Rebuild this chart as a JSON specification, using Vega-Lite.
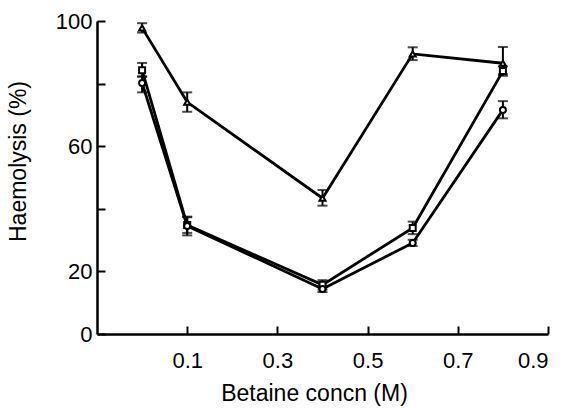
{
  "$schema": "https://vega.github.io/schema/vega-lite/v6.json",
  "width": 451,
  "height": 313,
  "autosize": "none",
  "padding": {"left": 97, "top": 21, "right": 21, "bottom": 74},
  "background": "white",
  "config": {"view": {"stroke": null}, "font": "Liberation Sans"},
  "data": {"values": [
    {"series": "tri", "conc": 0.0, "value": 97.8, "lo": 96.3, "hi": 99.3},
    {"series": "tri", "conc": 0.1, "value": 74.1, "lo": 71.0, "hi": 77.2},
    {"series": "tri", "conc": 0.4, "value": 43.4, "lo": 41.0, "hi": 46.0},
    {"series": "tri", "conc": 0.6, "value": 89.5, "lo": 87.5, "hi": 91.6},
    {"series": "tri", "conc": 0.8, "value": 86.5, "lo": 83.0, "hi": 91.7},
    {"series": "sq", "conc": 0.0, "value": 84.3, "lo": 82.3, "hi": 86.6},
    {"series": "sq", "conc": 0.1, "value": 34.8, "lo": 32.3, "hi": 37.3},
    {"series": "sq", "conc": 0.4, "value": 15.7, "lo": 14.2, "hi": 17.2},
    {"series": "sq", "conc": 0.6, "value": 33.9, "lo": 31.9, "hi": 35.9},
    {"series": "sq", "conc": 0.8, "value": 84.0, "lo": 82.5, "hi": 85.5},
    {"series": "circ", "conc": 0.0, "value": 80.2, "lo": 77.2, "hi": 82.2},
    {"series": "circ", "conc": 0.1, "value": 34.5, "lo": 31.5, "hi": 37.5},
    {"series": "circ", "conc": 0.4, "value": 14.4, "lo": 13.4, "hi": 15.4},
    {"series": "circ", "conc": 0.6, "value": 29.1, "lo": 28.1, "hi": 30.1},
    {"series": "circ", "conc": 0.8, "value": 71.6, "lo": 68.9, "hi": 74.4}
  ]},
  "encoding": {
    "x": {
      "field": "conc", "type": "quantitative",
      "scale": {"domain": [-0.1, 0.9], "nice": false, "zero": false},
      "axis": {
        "values": [0.1, 0.3, 0.5, 0.7, 0.9], "format": ".1f",
        "title": "Betaine concn (M)", "grid": false,
        "domainColor": "black", "domainWidth": 2.5,
        "tickColor": "black", "tickWidth": 2, "tickSize": -8,
        "labelPadding": 24, "labelFontSize": 22, "labelColor": "black",
        "titleFontSize": 23, "titleFontWeight": "normal", "titleColor": "black",
        "titleX": 217, "titleY": 59, "titleBaseline": "middle", "titleAlign": "center"
      }
    },
    "y": {
      "field": "value", "type": "quantitative",
      "scale": {"domain": [0, 100], "nice": false},
      "axis": {
        "values": [0, 20, 40, 60, 80, 100],
        "labelExpr": "datum.value == 40 || datum.value == 80 ? '' : datum.label",
        "title": "Haemolysis (%)", "grid": false,
        "domainColor": "black", "domainWidth": 2.5,
        "tickColor": "black", "tickWidth": 2, "tickSize": -8,
        "labelPadding": 13, "labelFontSize": 22, "labelColor": "black",
        "titleFontSize": 23, "titleFontWeight": "normal", "titleColor": "black",
        "titleX": -79, "titleY": 140, "titleBaseline": "middle", "titleAlign": "center", "titleAngle": -90
      }
    }
  },
  "layer": [
    {"mark": {"type": "line", "color": "black", "strokeWidth": 2.8}, "encoding": {"detail": {"field": "series"}}},
    {"mark": {"type": "rule", "color": "black", "strokeWidth": 2}, "encoding": {"y": {"field": "lo", "type": "quantitative"}, "y2": {"field": "hi"}}},
    {"mark": {"type": "tick", "color": "black", "orient": "horizontal", "size": 10, "thickness": 2}, "encoding": {"y": {"field": "lo", "type": "quantitative"}}},
    {"mark": {"type": "tick", "color": "black", "orient": "horizontal", "size": 10, "thickness": 2}, "encoding": {"y": {"field": "hi", "type": "quantitative"}}},
    {"mark": {"type": "point", "filled": true, "fill": "white", "stroke": "black", "strokeWidth": 2, "size": 36, "opacity": 1},
     "encoding": {"shape": {"field": "series", "type": "nominal", "scale": {"domain": ["tri", "sq", "circ"], "range": ["triangle-up", "square", "circle"]}, "legend": null}}}
  ]
}
